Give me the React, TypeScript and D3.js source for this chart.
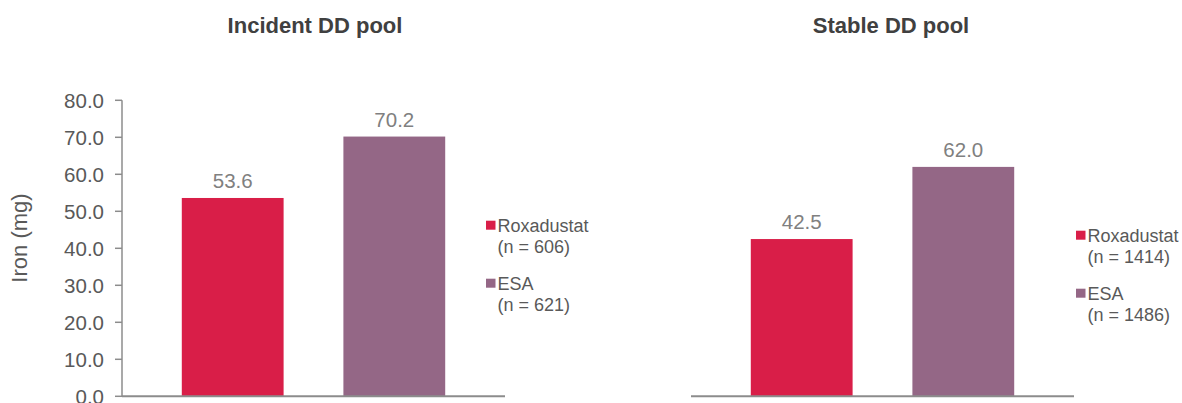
import React from "react";
import * as d3 from "d3";

// ---- data ----
const panelTitles = ["Incident DD pool", "Stable DD pool"];
const treatments = ["Roxadustat", "ESA"];
const incidentValues = [53.6, 70.2];
const stableValues = [42.5, 62.0];
const incidentN = [606, 621];
const stableN = [1414, 1486];
const yTicks = [0, 10, 20, 30, 40, 50, 60, 70, 80];
const yLabel = "Iron (mg)";

const colors = ["#D91E48", "#946786"];
const FONT = "'Liberation Sans', Arial, Helvetica, sans-serif";

const W = 1182;
const H = 403;

const panels = [
  { title: panelTitles[0], values: incidentValues, ns: incidentN, x0: 122, x1: 505, titleX: 315, legendX: 486, legendY: 231.7, showAxis: true },
  { title: panelTitles[1], values: stableValues, ns: stableN, x0: 691, x1: 1074, titleX: 891, legendX: 1076, legendY: 241.7, showAxis: false },
];

const y = d3.scaleLinear().domain([0, 80]).range([396.3, 100.3]);

export default function App() {
  return (
    <svg
      width={W}
      height={H}
      viewBox={`0 0 ${W} ${H}`}
      style={{ position: "absolute", left: 0, top: 0, background: "#fff" }}
      fontFamily={FONT}
    >
      <rect x={0} y={0} width={W} height={H} fill="#fff" />
      {panels.map((p, pi) => {
        const x = d3
          .scaleBand<string>()
          .domain(treatments)
          .range([p.x0, p.x1])
          .paddingInner(0.37)
          .paddingOuter(0.37);
        return (
          <g key={pi}>
            <text
              x={p.titleX}
              y={33}
              textAnchor="middle"
              fontSize={22}
              fontWeight="bold"
              fill="#404040"
            >
              {p.title}
            </text>
            {p.values.map((v, i) => (
              <g key={i}>
                <rect
                  x={x(treatments[i])}
                  y={y(v)}
                  width={x.bandwidth()}
                  height={y(0) - y(v)}
                  fill={colors[i]}
                />
                <text
                  x={(x(treatments[i]) as number) + x.bandwidth() / 2}
                  y={y(v) - 10}
                  textAnchor="middle"
                  fontSize={20.5}
                  fill="#808080"
                >
                  {v.toFixed(1)}
                </text>
              </g>
            ))}
            {p.showAxis && (
              <g>
                <line x1={p.x0} x2={p.x0} y1={y(80)} y2={y(0)} stroke="#8c8c8c" strokeWidth={1.5} />
                {yTicks.map((t) => (
                  <g key={t}>
                    <line x1={p.x0 - 7} x2={p.x0} y1={y(t)} y2={y(t)} stroke="#8c8c8c" strokeWidth={1.5} />
                    <text
                      x={104}
                      y={y(t)}
                      dy="0.36em"
                      textAnchor="end"
                      fontSize={20.5}
                      fill="#595959"
                    >
                      {t.toFixed(1)}
                    </text>
                  </g>
                ))}
                <text
                  transform={`translate(27,238) rotate(-90)`}
                  textAnchor="middle"
                  fontSize={22}
                  fill="#595959"
                >
                  {yLabel}
                </text>
              </g>
            )}
            <line x1={p.x0} x2={p.x1} y1={y(0)} y2={y(0)} stroke="#8c8c8c" strokeWidth={2} />
            {treatments.map((t, i) => {
              const by = p.legendY + i * 58;
              return (
                <g key={t}>
                  <rect x={p.legendX} y={by - 11} width={9.5} height={9} fill={colors[i]} />
                  <text x={p.legendX + 11.5} y={by} fontSize={18} fill="#595959">
                    {t}
                  </text>
                  <text x={p.legendX + 11.5} y={by + 21.5} fontSize={18} fill="#595959">
                    {`(n = ${p.ns[i]})`}
                  </text>
                </g>
              );
            })}
          </g>
        );
      })}
    </svg>
  );
}
